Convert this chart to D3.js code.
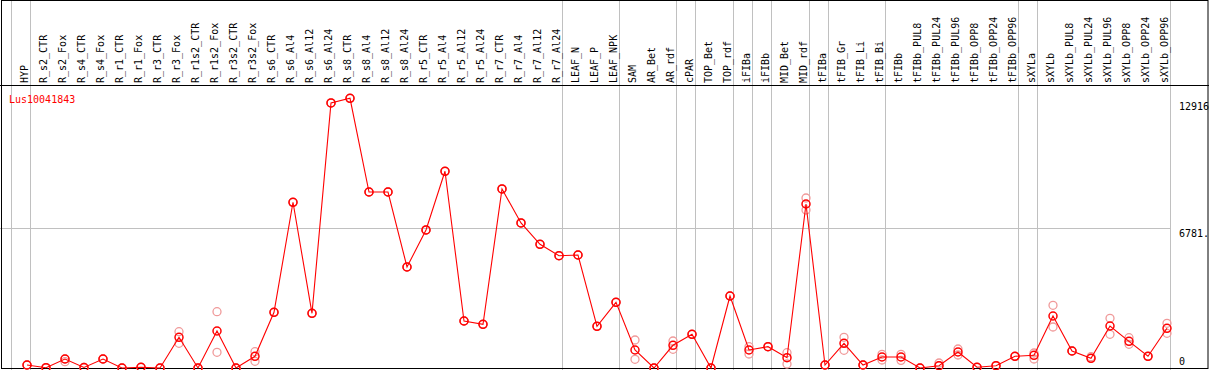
<!DOCTYPE html>
<html>
<head>
<meta charset="utf-8">
<script src="https://cdn.jsdelivr.net/npm/d3@7"></script>
<style>
body { margin: 0; background: #fff; }
text { font-family: "DejaVu Sans Mono", monospace; font-size: 10px; }
</style>
</head>
<body>
<script>
// probe set shown as title
const probe = "Lus10041843";

const samples = ["HYP", "R_s2_CTR", "R_s2_Fox", "R_s4_CTR", "R_s4_Fox", "R_r1_CTR", "R_r1_Fox",
  "R_r3_CTR", "R_r3_Fox", "R_r1s2_CTR", "R_r1s2_Fox", "R_r3s2_CTR", "R_r3s2_Fox", "R_s6_CTR",
  "R_s6_Al4", "R_s6_Al12", "R_s6_Al24", "R_s8_CTR", "R_s8_Al4", "R_s8_Al12", "R_s8_Al24",
  "R_r5_CTR", "R_r5_Al4", "R_r5_Al12", "R_r5_Al24", "R_r7_CTR", "R_r7_Al4", "R_r7_Al12",
  "R_r7_Al24", "LEAF_N", "LEAF_P", "LEAF_NPK", "SAM", "AR_Bet", "AR_rdf", "cPAR", "TOP_Bet",
  "TOP_rdf", "iFIBa", "iFIBb", "MID_Bet", "MID_rdf", "tFIBa", "tFIB_Gr", "tFIB_Li", "tFIB_Bi",
  "tFIBb", "tFIBb_PUL8", "tFIBb_PUL24", "tFIBb_PUL96", "tFIBb_OPP8", "tFIBb_OPP24", "tFIBb_OPP96",
  "sXYLa", "sXYLb", "sXYLb_PUL8", "sXYLb_PUL24", "sXYLb_PUL96", "sXYLb_OPP8", "sXYLb_OPP24",
  "sXYLb_OPP96"];

// mean expression per sample
const means = [145, 15, 436, 25, 436, 0, 35, 0, 1487, 0, 1792, 0, 567, 2698,
  8027, 2650, 12837, 13064, 8525, 8525, 4892, 6685, 9528, 2277, 2117, 8671, 7024, 5992,
  5440, 5474, 2020, 3183, 872, 0, 1100, 1632, 0, 3488, 872, 1032, 499, 7944, 145, 1196,
  145, 533, 533, 0, 111, 775, 34, 111, 567, 615, 2519, 823, 470, 2034, 1293, 567, 1923];

// individual replicates (lighter circles)
const replicates = [[145, 145], [15, 15], [436, 305], [25, 25], [436, 436], [0, 0], [35, 35],
  [0, 0], [1758, 1196], [0, 0], [2727, 760], [0, 0], [790, 325], [2698, 2698],
  [8027, 8027], [2650, 2650], [12837, 12837], [13064, 13064], [8525, 8525], [8525, 8525],
  [4892, 4892], [6685, 6685], [9528, 9528], [2277, 2277], [2117, 2117], [8671, 8671],
  [7024, 7024], [5992, 5992], [5440, 5440], [5474, 5474], [2020, 2020], [3183, 3183],
  [1356, 421], [0, 0], [1308, 906], [1632, 1632], [0, 0], [3488, 3488], [1032, 678],
  [1032, 1032], [741, 194], [8235, 7654], [145, 145], [1487, 857], [145, 145], [664, 388],
  [664, 370], [0, 0], [242, 111], [920, 630], [34, 34], [111, 111], [567, 567], [727, 436],
  [3037, 1986], [823, 823], [547, 470], [2407, 1632], [1468, 1148], [567, 567], [2165, 1681]];

// samples that start a new tissue group (grey separators)
const groupStarts = ["HYP", "R_s2_CTR", "LEAF_N", "SAM", "cPAR", "TOP_Bet", "iFIBa", "iFIBb",
  "MID_Bet", "tFIBa", "tFIB_Gr", "tFIBb", "sXYLa", "sXYLb"];

const yTicks = [0, 6781, 12916];
const yTickLabels = ["0", "6781.", "12916"];

const W = 1209, H = 370;
const svg = d3.select("body").append("svg")
  .attr("width", W).attr("height", H);

const x = d3.scalePoint().domain(samples).range([27, 1167]);
const step = x.step();
const y = d3.scaleLinear().domain([0, 12916]).range([368, 368 - 12916 * 140 / 6781]);

// grey group separators, full height
const sepX = groupStarts.map(s => x(s) - 16).concat([x(samples[samples.length - 1]) + 3]);
svg.selectAll(".sep").data(sepX).enter().append("line")
  .attr("x1", d => Math.round(d) + 0.5).attr("x2", d => Math.round(d) + 0.5)
  .attr("y1", 0).attr("y2", H)
  .attr("stroke", "#c0c0c0").attr("stroke-width", 1);

// middle grid line
svg.append("line")
  .attr("x1", 0).attr("x2", sepX[sepX.length - 1])
  .attr("y1", Math.round(y(6781)) + 0.5).attr("y2", Math.round(y(6781)) + 0.5)
  .attr("stroke", "#c0c0c0");

// frame
svg.append("rect")
  .attr("x", 1.5).attr("y", 0.5).attr("width", W - 2.5).attr("height", 368)
  .attr("fill", "none").attr("stroke", "#000");
svg.append("line")
  .attr("x1", 0).attr("x2", W).attr("y1", 85.5).attr("y2", 85.5)
  .attr("stroke", "#000");

// rotated sample labels
svg.selectAll(".lab").data(samples).enter().append("text")
  .attr("transform", d => `translate(${x(d) + 1},83) rotate(-90)`)
  .attr("fill", "#000")
  .text(d => d);

// title
svg.append("text")
  .attr("x", 9).attr("y", 103)
  .attr("fill", "#ff0000")
  .text(probe);

// y labels
svg.selectAll(".ylab").data(yTicks).enter().append("text")
  .attr("x", 1179)
  .attr("y", (d, i) => i === 0 ? 365 : y(d) + 9)
  .attr("fill", "#000")
  .text((d, i) => yTickLabels[i]);

// replicate circles
const reps = [];
replicates.forEach((r, i) => r.forEach(v => reps.push({s: samples[i], v: v})));
svg.selectAll(".rep").data(reps).enter().append("circle")
  .attr("cx", d => x(d.s)).attr("cy", d => y(d.v)).attr("r", 4)
  .attr("fill", "none").attr("stroke", "#f09a9a").attr("stroke-width", 1.3);

// mean line
const line = d3.line().x((d, i) => x(samples[i])).y(d => y(d));
svg.append("path")
  .attr("d", line(means))
  .attr("fill", "none").attr("stroke", "#ff0000").attr("stroke-width", 1.1);

svg.selectAll(".pt").data(means).enter().append("circle")
  .attr("cx", (d, i) => x(samples[i])).attr("cy", d => y(d)).attr("r", 4)
  .attr("fill", "none").attr("stroke", "#ff0000").attr("stroke-width", 1.5);
</script>
</body>
</html>
